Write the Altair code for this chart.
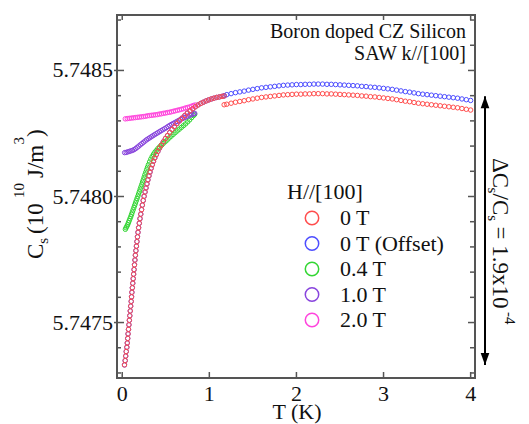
import altair as alt
import pandas as pd

FONT = "Liberation Serif"
NB = "\u00a0"

# ---------------- data ----------------
SERIES = ["0 T", "0 T (Offset)", "0.4 T", "1.0 T", "2.0 T"]
COLORS = ["#ff4d4d", "#4d4dff", "#33d633", "#8844dd", "#ff44dd"]

# 0 T, low-temperature branch (shared by the offset series)
RED_LOW_T = [0.026, 0.034, 0.040, 0.046, 0.053, 0.058, 0.063, 0.067, 0.072, 0.077,
             0.082, 0.087, 0.092, 0.097, 0.103, 0.107, 0.111, 0.116, 0.121, 0.126,
             0.131, 0.136, 0.141, 0.146, 0.151, 0.157, 0.163, 0.169, 0.175, 0.181,
             0.188, 0.196, 0.204, 0.213, 0.222, 0.231, 0.241, 0.251, 0.262, 0.273,
             0.284, 0.295, 0.307, 0.319, 0.332, 0.345, 0.359, 0.374, 0.391, 0.409,
             0.428, 0.449, 0.472, 0.496, 0.521, 0.546, 0.572, 0.598, 0.627, 0.657,
             0.687, 0.718, 0.748, 0.779, 0.809, 0.840, 0.870, 0.901, 0.931, 0.962,
             0.992, 1.023, 1.053, 1.084, 1.114, 1.145, 1.170]
RED_LOW_C = [5.747332, 5.747349, 5.747367, 5.747385, 5.747402, 5.747419, 5.747437, 5.747455, 5.747473, 5.747491,
             5.747509, 5.747527, 5.747546, 5.747565, 5.747584, 5.747602, 5.747620, 5.747638, 5.747656, 5.747674,
             5.747692, 5.747710, 5.747729, 5.747748, 5.747767, 5.747785, 5.747803, 5.747821, 5.747840, 5.747858,
             5.747876, 5.747894, 5.747912, 5.747930, 5.747948, 5.747966, 5.747984, 5.748001, 5.748018, 5.748034,
             5.748050, 5.748066, 5.748082, 5.748097, 5.748112, 5.748126, 5.748140, 5.748153, 5.748166, 5.748179,
             5.748192, 5.748204, 5.748217, 5.748230, 5.748242, 5.748254, 5.748266, 5.748277, 5.748289, 5.748300,
             5.748311, 5.748321, 5.748331, 5.748340, 5.748348, 5.748356, 5.748363, 5.748369, 5.748374, 5.748379,
             5.748383, 5.748387, 5.748390, 5.748393, 5.748395, 5.748397, 5.748399]

# high-temperature branch temperatures
HIGH_T = [1.17, 1.20, 1.25, 1.30, 1.35, 1.40, 1.45, 1.50, 1.55, 1.60,
          1.65, 1.70, 1.75, 1.80, 1.85, 1.90, 1.95, 2.00, 2.05, 2.10,
          2.15, 2.20, 2.25, 2.30, 2.35, 2.40, 2.45, 2.50, 2.55, 2.60,
          2.65, 2.70, 2.75, 2.80, 2.85, 2.90, 2.95, 3.00, 3.05, 3.10,
          3.15, 3.20, 3.25, 3.30, 3.35, 3.40, 3.45, 3.50, 3.55, 3.60,
          3.65, 3.70, 3.75, 3.80, 3.85, 3.90, 3.95, 4.00]
RED_HIGH_C = [5.748364, 5.748366, 5.748370, 5.748374, 5.748377, 5.748380, 5.748384, 5.748387, 5.748390, 5.748393,
              5.748395, 5.748397, 5.748399, 5.748401, 5.748403, 5.748404, 5.748405, 5.748406, 5.748406, 5.748407,
              5.748407, 5.748408, 5.748408, 5.748408, 5.748407, 5.748407, 5.748406, 5.748405, 5.748404, 5.748403,
              5.748402, 5.748401, 5.748399, 5.748398, 5.748396, 5.748395, 5.748393, 5.748391, 5.748389, 5.748387,
              5.748384, 5.748381, 5.748378, 5.748376, 5.748373, 5.748370, 5.748368, 5.748366, 5.748364, 5.748362,
              5.748360, 5.748358, 5.748356, 5.748354, 5.748352, 5.748349, 5.748346, 5.748343]
BLUE_HIGH_C = [5.748400, 5.748404, 5.748408, 5.748412, 5.748415, 5.748418, 5.748422, 5.748425, 5.748428, 5.748431,
               5.748433, 5.748435, 5.748437, 5.748439, 5.748441, 5.748442, 5.748443, 5.748444, 5.748444, 5.748445,
               5.748445, 5.748446, 5.748446, 5.748446, 5.748445, 5.748445, 5.748444, 5.748443, 5.748442, 5.748441,
               5.748440, 5.748439, 5.748437, 5.748436, 5.748434, 5.748433, 5.748431, 5.748429, 5.748427, 5.748425,
               5.748422, 5.748419, 5.748416, 5.748414, 5.748411, 5.748408, 5.748406, 5.748404, 5.748402, 5.748400,
               5.748398, 5.748396, 5.748394, 5.748392, 5.748390, 5.748387, 5.748384, 5.748381]

GREEN_T = [0.036, 0.044, 0.053, 0.062, 0.071, 0.080, 0.089, 0.098, 0.107, 0.116,
           0.125, 0.134, 0.143, 0.152, 0.161, 0.170, 0.179, 0.188, 0.197, 0.206,
           0.215, 0.224, 0.233, 0.242, 0.251, 0.260, 0.270, 0.280, 0.290, 0.301,
           0.314, 0.328, 0.343, 0.358, 0.374, 0.390, 0.409, 0.429, 0.449, 0.470,
           0.492, 0.515, 0.538, 0.561, 0.584, 0.607, 0.631, 0.655, 0.679, 0.703,
           0.727, 0.751, 0.774, 0.797, 0.818, 0.832]
GREEN_C = [5.747870, 5.747876, 5.747882, 5.747888, 5.747896, 5.747904, 5.747912, 5.747920, 5.747929, 5.747938,
           5.747947, 5.747956, 5.747965, 5.747974, 5.747983, 5.747992, 5.748001, 5.748010, 5.748019, 5.748029,
           5.748038, 5.748047, 5.748057, 5.748066, 5.748076, 5.748086, 5.748096, 5.748106, 5.748116, 5.748126,
           5.748137, 5.748148, 5.748158, 5.748167, 5.748175, 5.748182, 5.748190, 5.748197, 5.748203, 5.748210,
           5.748217, 5.748224, 5.748232, 5.748239, 5.748246, 5.748253, 5.748260, 5.748267, 5.748274, 5.748281,
           5.748288, 5.748296, 5.748304, 5.748313, 5.748321, 5.748326]

PURPLE_T = [0.028, 0.046, 0.064, 0.082, 0.100, 0.118, 0.136, 0.154, 0.172, 0.190,
            0.208, 0.226, 0.244, 0.262, 0.280, 0.298, 0.316, 0.334, 0.352, 0.370,
            0.389, 0.408, 0.427, 0.446, 0.466, 0.486, 0.506, 0.526, 0.546, 0.566,
            0.587, 0.608, 0.629, 0.650, 0.671, 0.692, 0.713, 0.734, 0.755, 0.776,
            0.797, 0.818, 0.832]
PURPLE_C = [5.748174, 5.748175, 5.748177, 5.748179, 5.748181, 5.748183, 5.748186, 5.748190, 5.748195, 5.748200,
            5.748205, 5.748210, 5.748215, 5.748220, 5.748225, 5.748229, 5.748233, 5.748237, 5.748241, 5.748245,
            5.748249, 5.748253, 5.748257, 5.748261, 5.748265, 5.748269, 5.748273, 5.748278, 5.748282, 5.748286,
            5.748290, 5.748294, 5.748298, 5.748302, 5.748306, 5.748309, 5.748313, 5.748316, 5.748319, 5.748322,
            5.748325, 5.748328, 5.748330]

MAGENTA_T = [0.035, 0.058, 0.081, 0.104, 0.127, 0.150, 0.173, 0.196, 0.219, 0.242,
             0.265, 0.288, 0.311, 0.334, 0.357, 0.380, 0.403, 0.426, 0.449, 0.472,
             0.495, 0.518, 0.541, 0.564, 0.587, 0.610, 0.633, 0.656, 0.679, 0.702,
             0.725, 0.748, 0.771, 0.794, 0.817, 0.838]
MAGENTA_C = [5.748308, 5.748309, 5.748310, 5.748311, 5.748312, 5.748313, 5.748314, 5.748315, 5.748316, 5.748317,
             5.748318, 5.748320, 5.748321, 5.748322, 5.748323, 5.748324, 5.748325, 5.748327, 5.748328, 5.748330,
             5.748331, 5.748333, 5.748334, 5.748336, 5.748338, 5.748340, 5.748342, 5.748344, 5.748346, 5.748348,
             5.748351, 5.748353, 5.748355, 5.748358, 5.748361, 5.748363]

X_TICKS = [0, 1, 2, 3, 4]
Y_MAJOR = [5.7475, 5.7480, 5.7485]
Y_MINOR = [5.7473, 5.7474, 5.7476, 5.7477, 5.7478, 5.7479,
           5.7481, 5.7482, 5.7483, 5.7484, 5.7486, 5.7487]
ARROW_LO, ARROW_HI = 5.747332, 5.748398

# ---------------- build table ----------------
rows = []
def add(name, ts, cs):
    for t, c in zip(ts, cs):
        rows.append({"T": t, "C": c, "series": name})

add("0 T (Offset)", RED_LOW_T + HIGH_T, RED_LOW_C + BLUE_HIGH_C)
add("0.4 T", GREEN_T, GREEN_C)
add("1.0 T", PURPLE_T, PURPLE_C)
add("2.0 T", MAGENTA_T, MAGENTA_C)
add("0 T", RED_LOW_T + HIGH_T, RED_LOW_C + RED_HIGH_C)
df = pd.DataFrame(rows)

W, H = 358, 363
xs = alt.Scale(domain=[-0.06, 4.05], nice=False, zero=False)
ys = alt.Scale(domain=[5.74728, 5.74872], nice=False, zero=False)
FRAME = "#555555"
INK = "#111111"

points = alt.Chart(df).mark_point(shape="circle", filled=False, size=20, strokeWidth=1, opacity=1).encode(
    x=alt.X("T:Q", scale=xs, axis=None),
    y=alt.Y("C:Q", scale=ys, axis=None),
    color=alt.Color("series:N", scale=alt.Scale(domain=SERIES, range=COLORS),
                    legend=alt.Legend(title="H//[100]", orient="none", legendX=170, legendY=167,
                                      titleFont=FONT, titleFontSize=22, titleFontWeight="normal",
                                      titleColor=INK, titlePadding=3, labelFont=FONT, labelFontSize=22,
                                      labelColor=INK, symbolType="circle", symbolSize=180,
                                      symbolStrokeWidth=1.5, symbolOffset=14, labelOffset=17,
                                      rowPadding=3.5, padding=0)),
)

# tick labels, placed through the scales
ylabels = alt.Chart(pd.DataFrame({"C": Y_MAJOR})).mark_text(
    align="right", baseline="middle", fontSize=22, font=FONT, color=INK).encode(
    y=alt.Y("C:Q", scale=ys, axis=None), x=alt.value(-4), text=alt.Text("C:Q", format=".4f"))
xlabels = alt.Chart(pd.DataFrame({"T": X_TICKS})).mark_text(
    align="center", baseline="top", fontSize=22, font=FONT, color=INK).encode(
    x=alt.X("T:Q", scale=xs, axis=None), y=alt.value(H + 6), text=alt.Text("T:Q", format="d"))

def yticks(vals, x1, x2):
    return alt.Chart(pd.DataFrame({"C": vals})).mark_rule(color=FRAME, strokeWidth=1.5).encode(
        y=alt.Y("C:Q", scale=ys, axis=None), x=alt.value(x1), x2=alt.value(x2))

def xticks(vals, y1, y2):
    return alt.Chart(pd.DataFrame({"T": vals})).mark_rule(color=FRAME, strokeWidth=1.5).encode(
        x=alt.X("T:Q", scale=xs, axis=None), y=alt.value(y1), y2=alt.value(y2))

ticks = [
    yticks(Y_MAJOR, -3, 7), yticks(Y_MINOR, 0, 4),
    yticks(Y_MAJOR, W - 7, W), yticks(Y_MINOR, W - 5, W),
    xticks(X_TICKS, H - 6, H), xticks(X_TICKS, 0, 5),
]

arrow_df = pd.DataFrame({"lo": [ARROW_LO], "hi": [ARROW_HI]})
AX = 368
arrow_line = alt.Chart(arrow_df).mark_rule(color="black", strokeWidth=2).encode(
    x=alt.value(AX), y=alt.Y("lo:Q", scale=ys, axis=None), y2="hi:Q")
head_up = alt.Chart(arrow_df).mark_point(shape="M0,0L-0.36,1L0.36,1Z", filled=True, color="black",
                                         size=576, opacity=1).encode(
    x=alt.value(AX), y=alt.Y("hi:Q", scale=ys, axis=None))
head_dn = alt.Chart(arrow_df).mark_point(shape="M0,0L-0.36,-1L0.36,-1Z", filled=True, color="black",
                                         size=576, opacity=1).encode(
    x=alt.value(AX), y=alt.Y("lo:Q", scale=ys, axis=None))

def txt(s, x, y, size, angle=0, align="left", baseline="alphabetic"):
    return alt.Chart(pd.DataFrame({"s": [s]})).mark_text(
        align=align, baseline=baseline, angle=angle, fontSize=size, font=FONT, color=INK).encode(
        text="s:N", x=alt.value(x), y=alt.value(y))

texts = [
    txt("Boron doped CZ Silicon", 349, 22.5, 20, align="right"),
    txt("SAW k//[100]", 349, 44.5, 20, align="right"),
    txt("T (K)", 180, 404, 22, align="center"),
    # y-axis title  C_s (10^10 J/m^3)
    txt("C", -74, 244, 23, angle=270),
    txt("s", -69, 228.7, 15, angle=270),
    txt("(10", -74, 219, 23, angle=270),
    txt("10", -93, 183, 15, angle=270),
    txt("J/m", -74, 163, 23, angle=270),
    txt("3", -93, 129.5, 15, angle=270),
    txt(")", -74, 122, 23, angle=270),
    # right annotation  ΔC_s/C_s = 1.9x10^-4
    txt("ΔC", 376, 143, 23, angle=90),
    txt("s", 371, 172.5, 15, angle=90),
    txt("/C", 376, 178.5, 23, angle=90),
    txt("s", 371, 200.2, 15, angle=90),
    txt("=" + NB + "1.9x10", 376, 211.5, 23, angle=90),
    txt("-4", 388, 297, 15, angle=90),
]

chart = alt.layer(*ticks, points, ylabels, xlabels, arrow_line, head_up, head_dn, *texts).properties(
    width=W, height=H,
    padding={"left": 109, "top": 7, "right": 46, "bottom": 46},
    autosize=alt.AutoSizeParams(type="none"),
).configure(font=FONT, view=alt.ViewConfig(stroke=FRAME, strokeWidth=2))

chart.save("out.html", embed_options={"renderer": "svg", "actions": False})
